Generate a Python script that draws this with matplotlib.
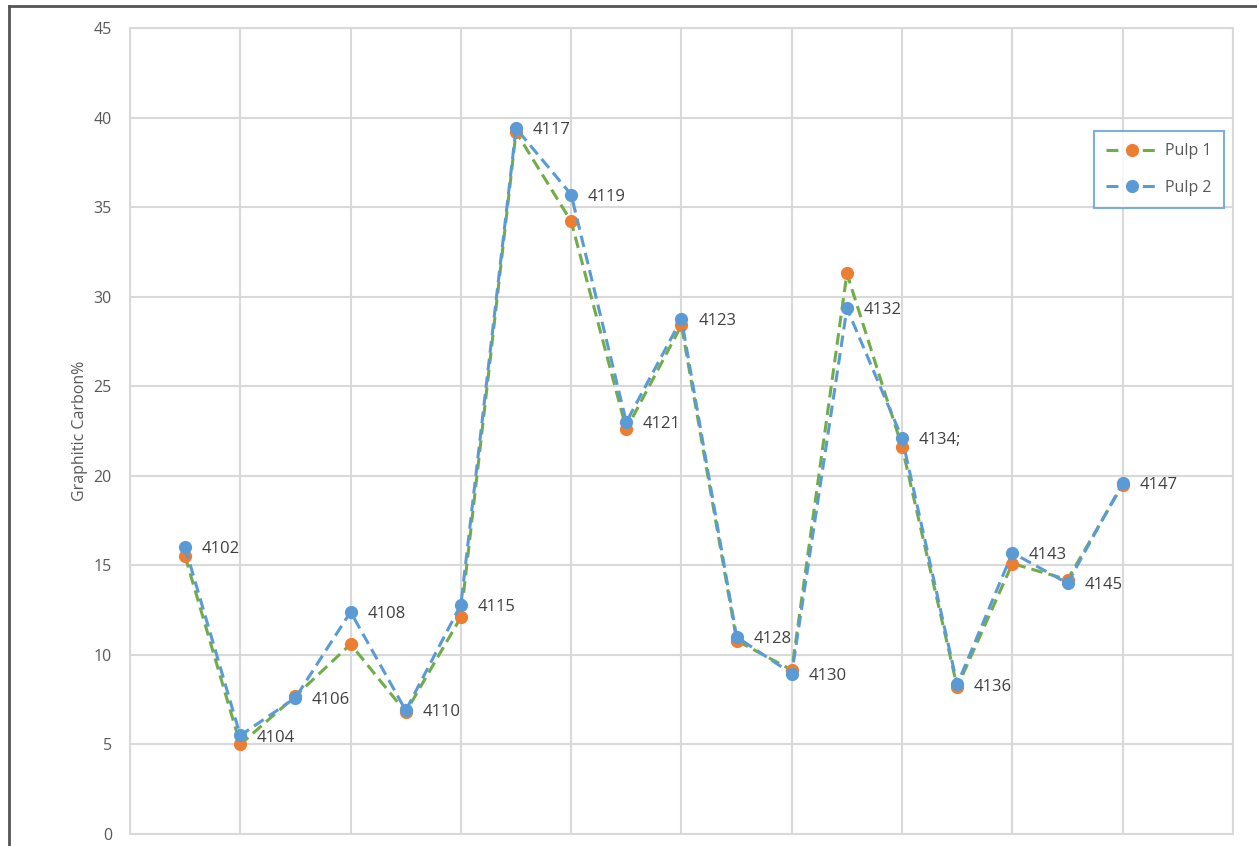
import matplotlib.pyplot as plt
from matplotlib.lines import Line2D

# sample ids and graphitic carbon values for the two pulps
samples = ['4102', '4104', '4106', '4108', '4110', '4115', '4117', '4119', '4121',
           '4123', '4128', '4130', '4132', '4134;', '4136', '4143', '4145', '4147']
pulp1 = [15.5, 5.0, 7.7, 10.6, 6.8, 12.1, 39.2, 34.2, 22.6,
         28.4, 10.8, 9.15, 31.3, 21.6, 8.2, 15.1, 14.2, 19.5]
pulp2 = [16.0, 5.5, 7.6, 12.4, 6.9, 12.8, 39.4, 35.7, 23.0,
         28.75, 11.0, 8.95, 29.35, 22.1, 8.35, 15.7, 14.0, 19.6]
y_ticks = [0, 5, 10, 15, 20, 25, 30, 35, 40, 45]

plt.rcParams['font.family'] = ['Open Sans', 'DejaVu Sans']

ORANGE = '#ED7D31'
BLUE = '#5B9BD5'
GREEN = '#70AD47'
GRID = '#D9D9D9'
TXT = '#595959'

fig = plt.figure(figsize=(12.57, 8.46), dpi=100)
ax = fig.add_axes([0.1034, 0.0142, 0.8775, 0.9527])

x = list(range(1, len(samples) + 1))
LW = 2.2
dash = (3.8, 2.0)
ax.plot(x, pulp1, color=GREEN, lw=LW, dashes=dash, marker='o', ms=8.5,
        mfc=ORANGE, mec=ORANGE, zorder=3)
ax.plot(x, pulp2, color=BLUE, lw=LW, dashes=dash, marker='o', ms=8.5,
        mfc=BLUE, mec=BLUE, zorder=4)

# sample labels next to the Pulp 2 points
for xi, yi, s in zip(x, pulp2, samples):
    ax.annotate(s, (xi, yi), xytext=(12, -1.5), textcoords='offset points',
                va='center', ha='left', fontsize=12, color='#404040', zorder=5)

ax.set_xlim(0, 20)
ax.set_ylim(0, 45)
ax.set_xticks(range(0, 21, 2))
ax.set_yticks(y_ticks)
ax.set_xticklabels([])
ax.grid(True, color=GRID, lw=1.5)
ax.set_axisbelow(True)
ax.tick_params(length=0, labelsize=11.5, labelcolor=TXT, pad=13)
for sp in ax.spines.values():
    sp.set_color(GRID)
    sp.set_linewidth(1.5)
ax.set_ylabel('Graphitic Carbon%', fontsize=11.5, color=TXT, labelpad=4)

# legend keys: short dash, marker, short dash
leg_dash = (3.9, 8.0)
handles = [
    Line2D([0], [0], color=GREEN, lw=LW, dashes=leg_dash, marker='o', ms=8.5,
           mfc=ORANGE, mec=ORANGE),
    Line2D([0], [0], color=BLUE, lw=LW, dashes=leg_dash, marker='o', ms=8.5,
           mfc=BLUE, mec=BLUE),
]
leg = ax.legend(handles, ['Pulp 1', 'Pulp 2'], loc='upper left',
                bbox_to_anchor=(0.874, 0.872), fontsize=11.5, frameon=True,
                fancybox=False, handlelength=3.3, labelspacing=1.3,
                borderpad=0.75, handletextpad=0.4, borderaxespad=0)
leg.get_frame().set_edgecolor(BLUE)
leg.get_frame().set_linewidth(1.5)
for t in leg.get_texts():
    t.set_color(TXT)

# outer frame lines on left and top
fig.add_artist(Line2D([0.0072, 0.0072], [0, 0.993], color='#555555', lw=2))
fig.add_artist(Line2D([0.0072, 1], [0.993, 0.993], color='#555555', lw=2))

fig.savefig('out.png', dpi=100)
